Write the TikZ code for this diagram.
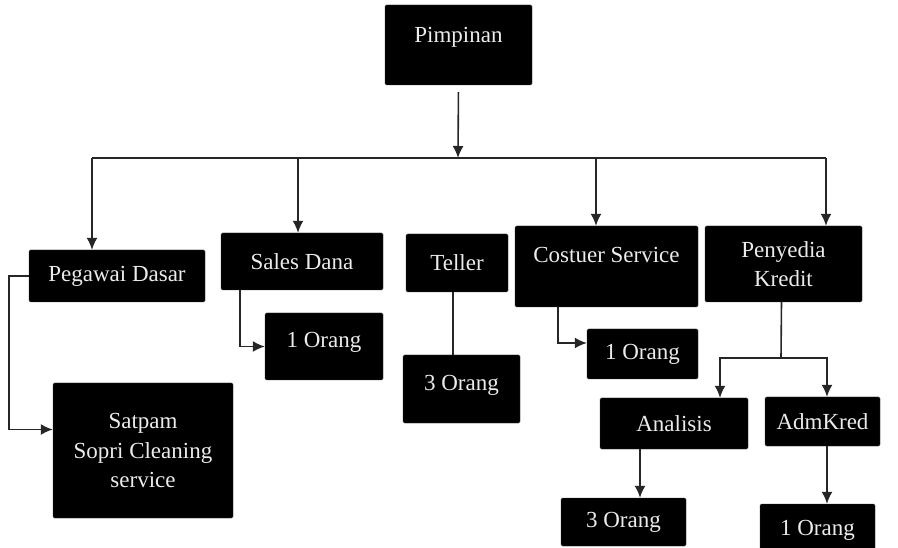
\documentclass[tikz,border=0pt]{standalone}
\usepackage{fontspec}
\setmainfont{Liberation Serif}
\usetikzlibrary{arrows.meta}

\tikzset{
  blk/.style={fill=black, draw=black!80, rounded corners=1.5pt, text=white!92!black,
    align=center, inner sep=0pt, font=\fontsize{23}{29.5}\selectfont},
  lift/.style={text depth=#1},
  conn/.style={line width=1.6pt, black!85},
  >={Latex[length=12pt,width=11pt]}
}

\begin{document}
\begin{tikzpicture}[x=1pt,y=-1pt]
  \useasboundingbox (0,0) rectangle (898,548);
  % boxes
  \node[blk,minimum width=147pt,minimum height=80pt,lift=21pt] (pim) at (458.5,45) {Pimpinan};
  \node[blk,minimum width=176pt,minimum height=52pt] (peg) at (117,276) {Pegawai Dasar};
  \node[blk,minimum width=162pt,minimum height=57pt] (sales) at (302,261.5) {Sales Dana};
  \node[blk,minimum width=102pt,minimum height=58pt] (tel) at (457,263) {Teller};
  \node[blk,minimum width=183pt,minimum height=81pt,lift=23pt] (cs) at (606.5,266.5) {Costuer Service};
  \node[blk,minimum width=157pt,minimum height=76pt] (pk) at (783.5,264) {Penyedia\\Kredit};
  \node[blk,minimum width=118pt,minimum height=67pt,lift=13pt] (sales1) at (324,346.5) {1 Orang};
  \node[blk,minimum width=117pt,minimum height=68pt,lift=13pt] (tel3) at (461.5,389) {3 Orang};
  \node[blk,minimum width=111pt,minimum height=50pt] (cs1) at (642.5,354) {1 Orang};
  \node[blk,minimum width=148pt,minimum height=51pt] (ana) at (674,423.5) {Analisis};
  \node[blk,minimum width=115pt,minimum height=49pt] (adm) at (822.5,421.5) {AdmKred};
  \node[blk,minimum width=125pt,minimum height=48pt] (ana3) at (623.5,522) {3 Orang};
  \node[blk,minimum width=115pt,minimum height=52pt] (adm1) at (817.5,530) {1 Orang};
  \node[blk,minimum width=180pt,minimum height=135pt] (sat) at (143,450.5)
    {Satpam\\Sopri Cleaning\\service};

  % connectors
  \coordinate (bus) at (458,158);
  \draw[conn,->,shorten <=7pt] (pim.south) -- (bus);
  \draw[conn] (92,158) -- (826,158);
  \foreach \x/\n in {92/peg,298/sales,596/cs,826/pk} {
    \draw[conn,->] (\x,158) -- (\x,158 |- \n.north);
  }
  \draw[conn,->] (peg.west) -- ++(-20,0) |- ([yshift=21pt]sat.west);
  \draw[conn,->] ([xshift=19pt]sales.south west) |- (sales1.west);
  \draw[conn] ([xshift=-4pt]tel.south) -- ([xshift=-4pt]tel.south |- tel3.north);
  \draw[conn,->] ([xshift=43pt]cs.south west) |- ([yshift=11pt]cs1.west);
  \coordinate (split) at (781,358);
  \draw[conn] ([xshift=-2pt]pk.south) -- (split);
  \draw[conn,->] (split) -| ([xshift=46pt]ana.north);
  \draw[conn,->] (split) -| ([xshift=4.5pt]adm.north);
  \draw[conn,->] ([xshift=-34pt]ana.south) -- ([xshift=-34pt]ana.south |- ana3.north);
  \draw[conn,->] ([xshift=4.5pt]adm.south) -- ([xshift=4.5pt]adm.south |- adm1.north);
\end{tikzpicture}
\end{document}
